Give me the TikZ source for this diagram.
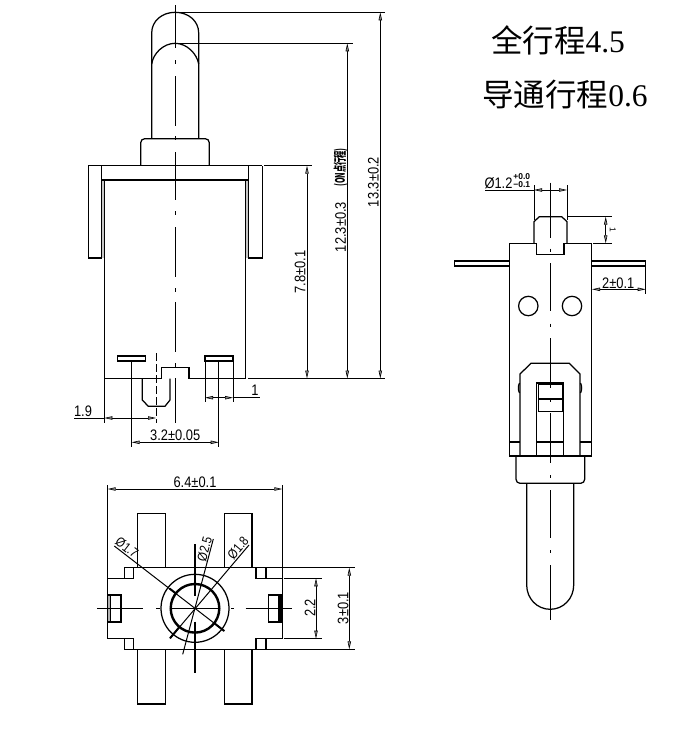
\documentclass[tikz,border=0pt]{standalone}
\usepackage{fontspec}
\usepackage{graphicx}
\setmainfont{Liberation Sans}
\newfontfamily\cjk{Noto Sans CJK SC}
\newfontfamily\serifdigits{Liberation Serif}
\usetikzlibrary{arrows.meta}
\newcommand{\tipR}{Triangle[length=8pt,width=3.4pt,line width=.6pt,fill=black!45]}
\newcommand{\cad}[1]{\scalebox{1.03}[1.22]{#1}}
\tikzset{
  part/.style={line width=1.25pt,line join=miter},
  heavy/.style={line width=2.2pt},
  centerln/.style={line width=1.05pt},
  extln/.style={line width=1pt},
  dimln/.style={line width=1pt,{\tipR}-{\tipR}},
  dimtxt/.style={inner sep=0pt,font=\fontsize{12.5}{13}\selectfont},
  dimsmall/.style={inner sep=0pt,font=\fontsize{11}{12}\selectfont},
  title/.style={inner sep=0pt,font=\fontsize{31.5}{32}\selectfont}
}
\begin{document}
\begin{tikzpicture}[x=1pt,y=-1pt]
\useasboundingbox[fill=white] (0,0) rectangle (691,734);

% ---------- front view ----------
\draw[part] (151.7,138.7) -- (151.7,33) .. controls (151.7,21) and (162,12.3) .. (175.2,12.3)
  .. controls (188.4,12.3) and (198.7,21) .. (198.7,33) -- (198.7,138.7);
\draw[part] (151.7,64) .. controls (153,54) and (163,43.3) .. (175.2,43.3)
  .. controls (187,43.3) and (197,54) .. (198.7,64);
\draw[part,rounded corners=4pt] (140.7,165.7) -- (140.7,138.7) -- (209.3,138.7) -- (209.3,165.7);
\fill[black!22] (101.7,180) rectangle (104.3,258);
\fill[black!22] (245.7,180) rectangle (248.3,258);
\draw[part] (88.3,165.7) -- (262.3,165.7);
\draw[part] (88.3,165.7) -- (88.3,258) -- (101.7,258) -- (101.7,165.7);
\draw[part] (248.3,165.7) -- (248.3,258) -- (262.3,258) -- (262.3,165.7);
\draw[line width=1.6pt] (101.7,180) -- (248.3,180);
\draw[part] (104.3,180) -- (104.3,378.5) -- (161.7,378.5) -- (161.7,367.3) -- (189,367.3) -- (189,378.5) -- (245.7,378.5) -- (245.7,180);
\draw[part] (117.3,356) rectangle (145.7,361);
\draw[part] (205,356) rectangle (233,361);
\draw[part] (142.3,378.5) -- (142.3,400) -- (148.3,406.3) -- (165,406.3) -- (170,400) -- (170,378.5);
\draw[extln] (205,356) -- (205,402);
\draw[extln] (233,356) -- (233,402);
\draw[line width=.8pt,dash pattern=on 8pt off 3pt] (156,353) -- (156,423);
\draw[centerln] (175.2,5) -- (175.2,48) (175.2,60) -- (175.2,64)
  (175.2,76) -- (175.2,126) (175.2,136) -- (175.2,140)
  (175.2,152) -- (175.2,200) (175.2,211) -- (175.2,215)
  (175.2,227) -- (175.2,277) (175.2,288) -- (175.2,292)
  (175.2,302) -- (175.2,352) (175.2,363) -- (175.2,367)
  (175.2,378) -- (175.2,423);

% front view dimensions
\draw[extln] (175.2,12.3) -- (385,12.3);
\draw[extln] (175.2,43.3) -- (352.7,43.3);
\draw[extln] (264,165.7) -- (311.7,165.7);
\draw[extln] (248,378.5) -- (385,378.5);
\draw[dimln] (380.3,12.3) -- (380.3,378.5);
\draw[dimln] (347.3,43.3) -- (347.3,378.5);
\draw[dimln] (307,165.7) -- (307,378.5);
\node[dimtxt,rotate=90] (t133) at (373.3,182) {\cad{13.3±0.2}};
\node[dimtxt,rotate=90] (t123) at (340.7,227) {\cad{12.3±0.3}};
\node[dimtxt,rotate=90] (tON) at (340.7,167.5) {\cjk\bfseries\scalebox{0.58}[1.05]{(ON点行程)}};
\node[dimtxt,rotate=90] (t78) at (300,272) {\cad{7.8±0.1}};
\draw[extln] (104.3,378.5) -- (104.3,423);
\draw[extln] (131.7,361) -- (131.7,447);
\draw[extln] (218.7,361) -- (218.7,447);
\draw[dimln] (104.3,418) -- (156,418);
\draw[extln] (74,418) -- (104.3,418);
\node[dimtxt] (t19) at (83,411.5) {\cad{1.9}};
\draw[dimln] (131.7,442.3) -- (218.7,442.3);
\node[dimtxt] (t32) at (175.2,435.5) {\cad{3.2±0.05}};
\draw[dimln] (205,397.7) -- (233,397.7);
\draw[extln] (233,397.7) -- (260,397.7);
\node[dimtxt] (t1a) at (255,390.5) {\cad{1}};

% ---------- bottom view ----------
\draw[part] (137.3,567.7) -- (137.3,513.3) -- (165.3,513.3) -- (165.3,567.7);
\draw[part] (224.3,567.7) -- (224.3,513.3) -- (252,513.3) -- (252,567.7);
\draw[part] (137.3,649.3) -- (137.3,704) -- (165.3,704) -- (165.3,649.3);
\draw[part] (224.3,649.3) -- (224.3,704) -- (252,704) -- (252,649.3);
\draw[part] (124.3,567.7) -- (124.3,578.3) -- (107.7,578.3) -- (107.7,638.7) -- (124.3,638.7) -- (124.3,649.3) -- (266,649.3) -- (266,638.7) -- (282.3,638.7) -- (282.3,578.3) -- (266,578.3) -- (266,567.7) -- cycle;
\draw[part] (124.3,578.3) -- (133.3,578.3) -- (133.3,567.7);
\draw[part] (266,578.3) -- (256,578.3) -- (256,567.7);
\draw[part] (124.3,638.7) -- (133.3,638.7) -- (133.3,649.3);
\draw[part] (266,638.7) -- (256,638.7) -- (256,649.3);
% side slots
\fill[black!30] (107.7,595) rectangle (110.7,622);
\draw[part] (107.7,595) rectangle (121,622);
\draw[part] (110.7,595) -- (110.7,622);
\draw[heavy] (107.7,595) -- (121,595) (107.7,622) -- (121,622);
\fill[black!30] (279,595) rectangle (281.5,622);
\draw[part] (268.3,595) rectangle (281,622);
\draw[part] (279,595) -- (279,622);
\draw[heavy] (268.3,595) -- (281,595) (268.3,622) -- (281,622);
\draw[part] (195,608.3) circle[radius=34];
\draw[line width=2.4pt] (195,608.3) circle[radius=24.3];
\draw[centerln] (97.3,608.3) -- (143.3,608.3) (156,608.3) -- (160,608.3)
  (170.7,608.3) -- (219.3,608.3) (231,608.3) -- (234,608.3) (245.7,608.3) -- (292.3,608.3);
\draw[centerln] (195,544) -- (195,596) (195,621.7) -- (195,672.7);
\draw[extln] (114.3,546) -- (224.3,631);
\draw[extln] (213.3,539) -- (182.7,654.3);
\draw[extln] (249,545) -- (170,638.3);
\draw[line width=2pt] (214,623) -- (224.3,631);
\draw[line width=2pt] (179,627.5) -- (170,638.3);
\draw[line width=2pt] (169.5,588.5) -- (176,593.5);
\node[dimsmall,rotate=-38] (d17) at (127,547.5) {\cad{Ø1.7}};
\node[dimsmall,rotate=75] (d25) at (204.5,549) {\cad{Ø2.5}};
\node[dimsmall,rotate=50] (d18) at (238,548) {\cad{Ø1.8}};

\draw[extln] (107.7,485) -- (107.7,578);
\draw[extln] (282.3,485) -- (282.3,578);
\draw[dimln] (107.7,489) -- (282.3,489);
\node[dimtxt] (t64) at (195,482) {\cad{6.4±0.1}};
\draw[extln] (267,567.7) -- (355,567.7);
\draw[extln] (267,649.3) -- (355,649.3);
\draw[extln] (284,578.3) -- (321.7,578.3);
\draw[extln] (284,638.7) -- (321.7,638.7);
\draw[dimln] (316,578.3) -- (316,638.7);
\draw[dimln] (349.3,567.7) -- (349.3,649.3);
\node[dimtxt,rotate=90] (t22) at (310,608) {\cad{2.2}};
\node[dimtxt,rotate=90] (t3) at (343,608) {\cad{3±0.1}};

% ---------- side view ----------
\draw[part] (534,243.3) -- (534,221.7) -- (539.3,216.7) -- (561.7,216.7) -- (567,221.7) -- (567,243.3);
\draw[part] (509.5,456) -- (509.5,243.3) -- (536.7,243.3) -- (536.7,254.7) -- (564,254.7) -- (564,243.3) -- (591.2,243.3) -- (591.2,456) -- cycle;
\draw[part] (509.5,261) -- (454.7,261) -- (454.7,266) -- (509.5,266);
\draw[part] (591.2,261) -- (645.7,261) -- (645.7,266) -- (591.2,266);
\draw[part] (528.3,306) circle[radius=9.7];
\draw[part] (572,306) circle[radius=9.7];
\draw[part] (520,456) -- (520,374) -- (531,363.3) -- (569.3,363.3) -- (580,374) -- (580,456);
\draw[part] (519.5,383) .. controls (518,386) and (518,390) .. (519.5,393);
\draw[part] (580.5,383) .. controls (582,386) and (582,390) .. (580.5,393);
\draw[part] (536.7,456) -- (536.7,382.7) -- (563.7,382.7) -- (563.7,456);
\draw[line width=1.8pt] (536.7,382.7) -- (563.7,382.7);
\draw[part] (538.6,384) rectangle (562.4,411.7);
\draw[part] (538.6,399) -- (562.4,399);
\draw[line width=1.8pt] (509.5,441.7) -- (520,441.7) (536.7,441.7) -- (563.7,441.7) (580,441.7) -- (591.2,441.7);
\draw[part,rounded corners=4pt] (516,456) -- (516,483.3) -- (584.7,483.3) -- (584.7,456);
\draw[part] (526.7,483.3) -- (526.7,585) .. controls (526.7,598.5) and (537,609.3) .. (550.2,609.3)
  .. controls (563.4,609.3) and (573.7,598.5) .. (573.7,585) -- (573.7,483.3);
\draw[centerln] (550.3,182.7) -- (550.3,238) (550.3,248.5) -- (550.3,251.5)
  (550.3,263.3) -- (550.3,311) (550.3,323.5) -- (550.3,326.5)
  (550.3,338) -- (550.3,388) (550.3,398.5) -- (550.3,401.5)
  (550.3,413) -- (550.3,463) (550.3,475) -- (550.3,478)
  (550.3,490) -- (550.3,538) (550.3,550) -- (550.3,553)
  (550.3,565) -- (550.3,620);

% side view dimensions
\draw[extln] (534,185) -- (534,220);
\draw[extln] (567,185) -- (567,220);
\draw[extln] (485,190) -- (534,190);
\draw[dimln] (534,190) -- (567,190);
\node[dimtxt] (dd12) at (498.5,183.5) {\cad{Ø1.2}};
\node[inner sep=0pt,font=\fontsize{8.5}{9}\bfseries\selectfont] (tolu) at (521.7,177) {+0.0};
\node[inner sep=0pt,font=\fontsize{8.5}{9}\bfseries\selectfont] (told) at (521.7,185) {−0.1};
\draw[extln] (567,216.7) -- (611.7,216.7);
\draw[extln] (593,243.3) -- (611.7,243.3);
\draw[dimln] (605.7,216.7) -- (605.7,243.3);
\node[inner sep=0pt,rotate=-90,font=\fontsize{8.5}{9}\selectfont] (t1b) at (612.7,229.7) {1};
\draw[extln] (645.7,266) -- (645.7,294);
\draw[dimln] (592,289.3) -- (645.7,289.3);
\node[dimtxt] (t2) at (618.3,283) {\cad{2±0.1}};

% ---------- titles ----------
\node[title] (h1) at (558,40) {{\cjk 全行程}{\serifdigits 4.5}};
\node[title] (h2) at (565,95) {{\cjk 导通行程}{\serifdigits 0.6}};
\end{tikzpicture}
\end{document}
